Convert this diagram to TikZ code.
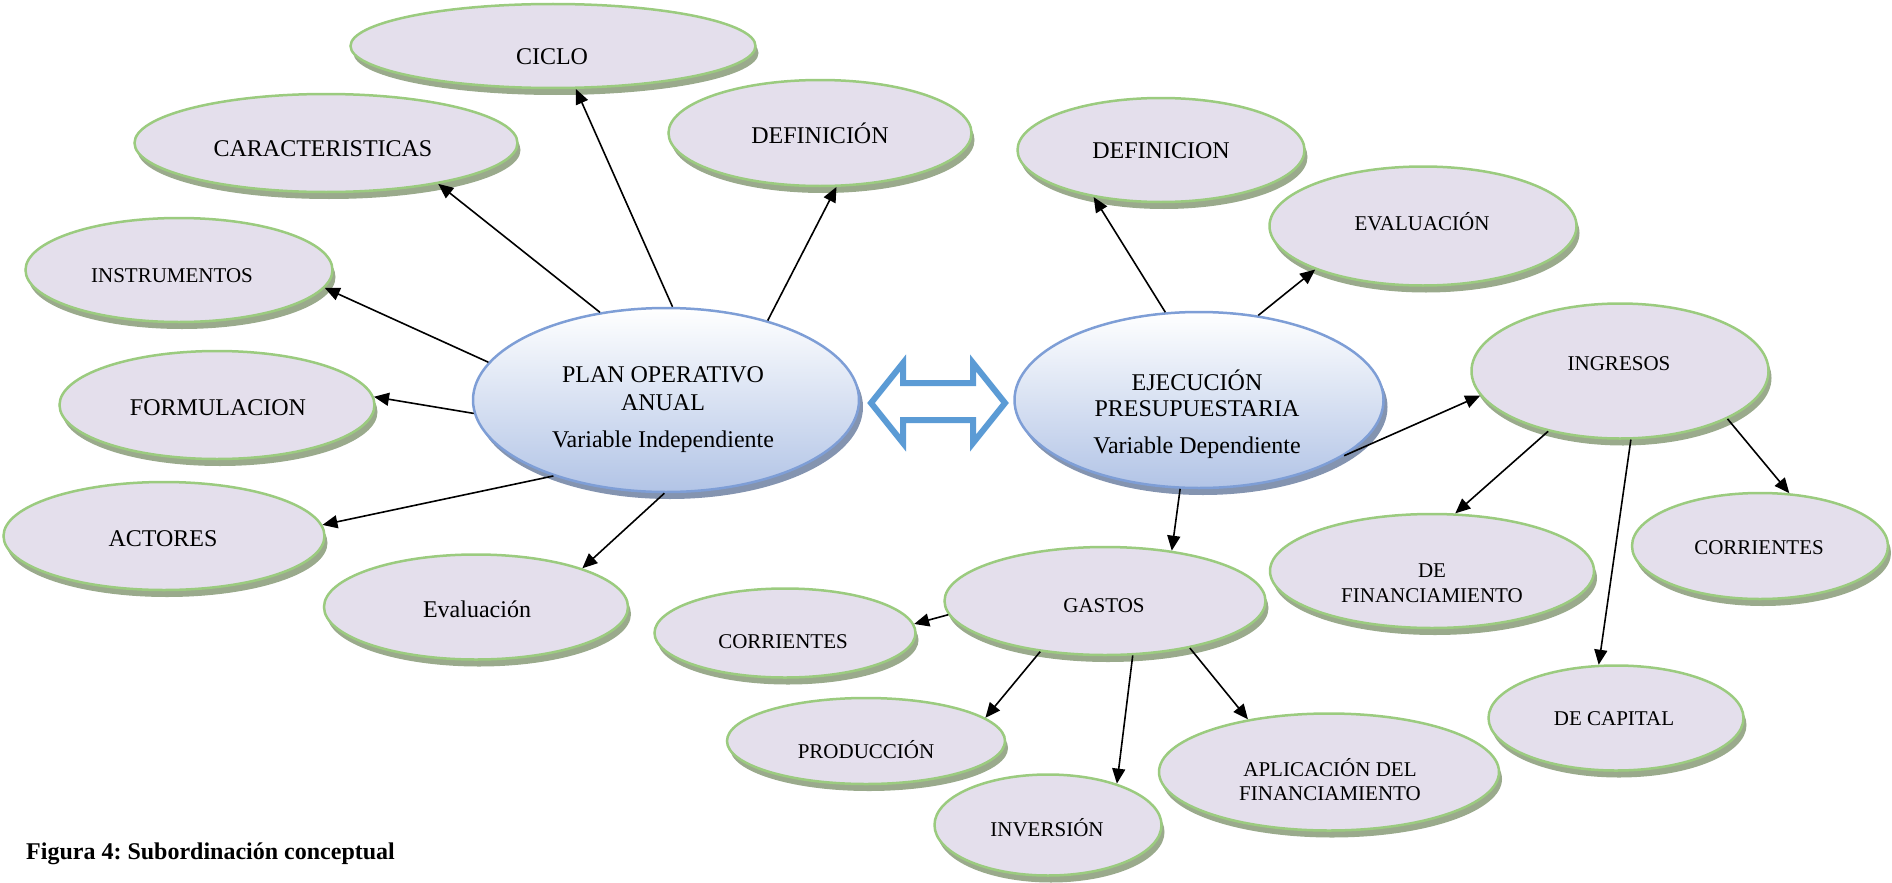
\documentclass[tikz,border=0pt]{standalone}
\usepackage{fontspec}
\setmainfont{Liberation Serif}
\usetikzlibrary{shapes.geometric,arrows.meta,shadows}
\definecolor{efill}{RGB}{228,223,236}
\definecolor{eline}{RGB}{155,203,127}
\definecolor{eshadow}{RGB}{154,170,140}
\definecolor{mline}{RGB}{126,158,214}
\definecolor{mbot}{RGB}{178,196,230}
\definecolor{mshadow}{RGB}{132,148,176}
\definecolor{darrow}{RGB}{91,155,213}
\tikzset{
  sub/.style={ellipse, draw=eline, line width=2.5pt, fill=efill, inner sep=0pt,
    drop shadow={shadow xshift=3pt, shadow yshift=-7pt, fill=eshadow, opacity=1}},
  mainell/.style={ellipse, draw=mline, line width=2.5pt, top color=white, bottom color=mbot, inner sep=0pt,
    drop shadow={shadow xshift=4pt, shadow yshift=-7pt, fill=mshadow, opacity=1}},
  bigtxt/.style={anchor=base, font=\fontsize{24}{28}\selectfont, inner sep=0pt},
  smalltxt/.style={anchor=base, font=\fontsize{21}{24}\selectfont, inner sep=0pt},
  conn/.style={line width=1.6pt, -{Triangle[length=15pt,width=13pt]}},
}
\frenchspacing
\begin{document}
\begin{tikzpicture}[x=1pt,y=-1pt]
\useasboundingbox (0,0) rectangle (1892,883);

% main ellipses
\node[mainell, minimum width=386pt, minimum height=184pt] (plan) at (666,400) {};
\node[mainell, minimum width=369pt, minimum height=176pt] (ejec) at (1199,400) {};

% left sub ellipses
\node[sub, minimum width=405pt, minimum height=84pt] (ciclo) at (553,46) {};
\node[sub, minimum width=383pt, minimum height=98pt] (carac) at (326,143) {};
\node[sub, minimum width=303pt, minimum height=106pt] (defl) at (820,133) {};
\node[sub, minimum width=307pt, minimum height=104pt] (instr) at (179,270) {};
\node[sub, minimum width=315pt, minimum height=108pt] (formu) at (217,405) {};
\node[sub, minimum width=321pt, minimum height=108pt] (actor) at (164,536) {};
\node[sub, minimum width=304pt, minimum height=105pt] (evall) at (476,607) {};

% right sub ellipses
\node[sub, minimum width=287pt, minimum height=104pt] (defr) at (1161,150) {};
\node[sub, minimum width=307pt, minimum height=119pt] (evalr) at (1423,226) {};
\node[sub, minimum width=297pt, minimum height=135pt] (ingr) at (1620,371) {};
\node[sub, minimum width=256pt, minimum height=106pt] (corrr) at (1760,546) {};
\node[sub, minimum width=324pt, minimum height=114pt] (definan) at (1432,571) {};
\node[sub, minimum width=255pt, minimum height=105pt] (decap) at (1616,718) {};
\node[sub, minimum width=321pt, minimum height=108pt] (gastos) at (1105,601) {};
\node[sub, minimum width=261pt, minimum height=89pt] (corrl) at (785,633) {};
\node[sub, minimum width=278pt, minimum height=86pt] (produ) at (866,741) {};
\node[sub, minimum width=227pt, minimum height=101pt] (inver) at (1048,825) {};
\node[sub, minimum width=340pt, minimum height=117pt] (aplic) at (1329,772) {};

% texts
\node[bigtxt] (plan-t1) at (663,382) {PLAN OPERATIVO};
\node[bigtxt] (plan-t2) at (663,410) {ANUAL};
\node[bigtxt] (plan-t3) at (663,447) {Variable Independiente};
\node[bigtxt] (ejec-t1) at (1197,390) {EJECUCIÓN};
\node[bigtxt] (ejec-t2) at (1197,416) {PRESUPUESTARIA};
\node[bigtxt] (ejec-t3) at (1197,453) {Variable Dependiente};

\node[bigtxt] (ciclo-t) at (552,65) {CICLO};
\node[bigtxt] (carac-t) at (323,156) {CARACTERISTICAS};
\node[bigtxt] (defl-t) at (820,143) {DEFINICIÓN};
\node[smalltxt] (instr-t) at (172,282) {INSTRUMENTOS};
\node[bigtxt] (formu-t) at (218,415) {FORMULACION};
\node[bigtxt] (actor-t) at (163,546) {ACTORES};
\node[bigtxt] (evall-t) at (477,617) {Evaluación};

\node[bigtxt] (defr-t) at (1161,158) {DEFINICION};
\node[smalltxt] (evalr-t) at (1422,230) {EVALUACIÓN};
\node[smalltxt] (ingr-t) at (1619,370) {INGRESOS};
\node[smalltxt] (corrr-t) at (1759,554) {CORRIENTES};
\node[smalltxt] (definan-t1) at (1432,577) {DE};
\node[smalltxt] (definan-t2) at (1432,602) {FINANCIAMIENTO};
\node[smalltxt] (decap-t) at (1614,725) {DE CAPITAL};
\node[smalltxt] (gastos-t) at (1104,612) {GASTOS};
\node[smalltxt] (corrl-t) at (783,648) {CORRIENTES};
\node[smalltxt] (produ-t) at (866,758) {PRODUCCIÓN};
\node[smalltxt] (inver-t) at (1047,836) {INVERSIÓN};
\node[smalltxt] (aplic-t1) at (1330,776) {APLICACIÓN DEL};
\node[smalltxt] (aplic-t2) at (1330,800) {FINANCIAMIENTO};

% double arrow between main ellipses
\draw[darrow, line width=6pt, fill=white, line join=miter]
  (871,403) -- (903,363) -- (903,383) -- (973,383) -- (973,363) -- (1005,403)
  -- (973,443) -- (973,420) -- (903,420) -- (903,443) -- cycle;

% connectors from PLAN
\draw[conn] (plan.86) -- (ciclo.-62);
\draw[conn] (plan.127) -- (carac.-20);
\draw[conn] (plan.38) -- (defl.-73);
\draw[conn] (plan.168) -- (instr.-7);
\draw[conn] (plan.184) -- (formu.3);
\draw[conn] (plan.214) -- (actor.4);
\draw[conn] (plan.269) -- (evall.20);

% connectors from EJECUCION
\draw[conn] (ejec.111) -- (defr.215);
\draw[conn] (ejec.55) -- (evalr.202);
\draw[conn] (ejec.-21) -- (ingr.190);
\draw[conn] (ejec.258) -- (gastos.37);

% from GASTOS
\draw[conn] (gastos.185) -- (corrl.4);
\draw[conn] (gastos.218) -- (produ.11);
\draw[conn] (gastos.297) -- (inver.31);
\draw[conn] (gastos.331) -- (aplic.147);

% from INGRESOS
\draw[conn] (ingr.220) -- (definan.68);
\draw[conn] (ingr.279) -- (decap.108);
\draw[conn] (ingr.336) -- (corrr.61);

% caption
\node[anchor=base west, font=\bfseries\fontsize{24}{28}\selectfont, inner sep=0pt] (caption) at (26,859) {Figura 4: Subordinación conceptual};
\end{tikzpicture}
\end{document}
